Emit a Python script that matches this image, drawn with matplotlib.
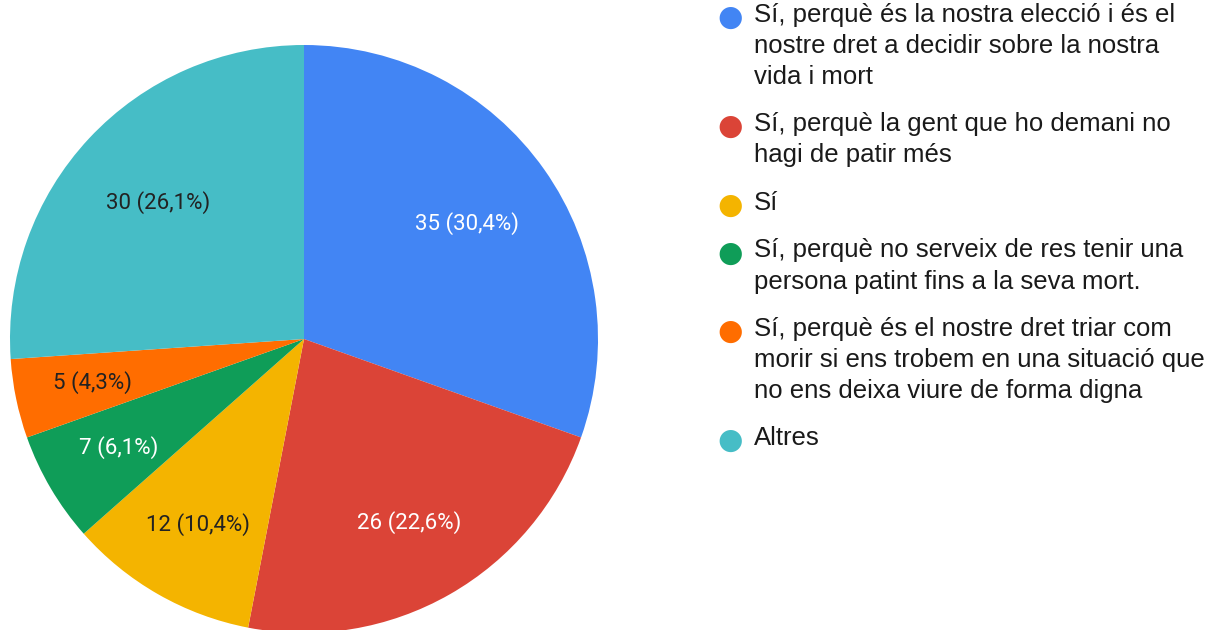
import matplotlib
matplotlib.use("Agg")
import matplotlib.pyplot as plt
import numpy as np

categories = [
    "Sí, perquè és la nostra elecció i és el\nnostre dret a decidir sobre la nostra\nvida i mort",
    "Sí, perquè la gent que ho demani no\nhagi de patir més",
    "Sí",
    "Sí, perquè no serveix de res tenir una\npersona patint fins a la seva mort.",
    "Sí, perquè és el nostre dret triar com\nmorir si ens trobem en una situació que\nno ens deixa viure de forma digna",
    "Altres",
]
values = [35, 26, 12, 7, 5, 30]
colors = ["#4285F4", "#DB4437", "#F4B400", "#0F9D58", "#FF6D00", "#46BDC6"]
label_colors = ["white", "white", "#222222", "white", "#222222", "#222222"]
label_dist = [0.68, 0.72, 0.725, 0.73, 0.735, 0.68]

W, H = 1232, 630
fig = plt.figure(figsize=(W / 100, H / 100), dpi=100)

cx, cy, R = 304, 339, 294
ax = fig.add_axes([(cx - R) / W, (H - cy - R) / H, 2 * R / W, 2 * R / H])
wedges, _ = ax.pie(values, colors=colors, startangle=90, counterclock=False,
                   radius=1, wedgeprops=dict(linewidth=0))
ax.set_xlim(-1, 1)
ax.set_ylim(-1, 1)
ax.set_aspect("equal")
ax.axis("off")

total = sum(values)
for w, v, c, d in zip(wedges, values, label_colors, label_dist):
    ang = np.deg2rad((w.theta1 + w.theta2) / 2)
    pct = f"{100 * v / total:.1f}".replace(".", ",")
    ax.text(d * np.cos(ang), d * np.sin(ang), f"{v} ({pct}%)",
            ha="center", va="center", color=c, fontsize=16, family="Roboto")

# legend (manual)
mx, tx = 730, 754
line_h = 30.5
entry_gap = 17.5
y = 18
for lab, col in zip(categories, colors):
    n = lab.count("\n") + 1
    fig.text(mx / W, 1 - y / H, "●", color=col, fontsize=21, ha="center", va="center",
             family="DejaVu Sans")
    fig.text(tx / W, 1 - (y - 15) / H, lab, color="#1a1a1a", fontsize=18.5,
             family="Liberation Sans", ha="left", va="top", linespacing=1.38)
    y += n * line_h + entry_gap

fig.savefig("out.png", dpi=100, facecolor="white")
